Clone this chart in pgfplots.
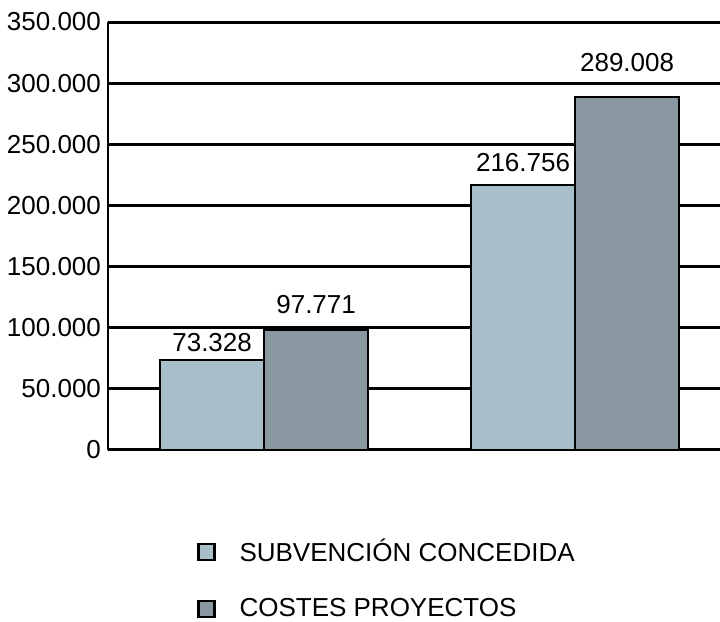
\documentclass[border=0pt]{standalone}
\usepackage{pgfplots}
\pgfplotsset{compat=1.18}
\usepackage{fontspec}
\setmainfont{Liberation Sans}
\definecolor{cLight}{RGB}{168,190,200}
\definecolor{cDark}{RGB}{138,152,162}
\pgfplotstableread{
x y shift
0 73328 4
1 216756 6
}\subv
\pgfplotstableread{
x y shift
0 97771 8
1 289008 12
}\costes
\begin{document}
\begin{tikzpicture}[font=\fontsize{13}{15}\selectfont]
\path[use as bounding box] (0,0) rectangle (360pt,311pt);
\begin{axis}[
  at={(54pt,86pt)}, anchor=south west,
  scale only axis, width=306pt, height=214pt,
  ybar=0pt, bar width=52pt,
  xmin=-0.502, xmax=1.466,
  ymin=0, ymax=350000,
  ytick={0,50000,...,350000},
  xtick=\empty,
  scaled y ticks=false,
  /pgf/number format/assume math mode=true,
  yticklabel style={/pgf/number format/fixed, /pgf/number format/1000 sep={.}},
  ymajorgrids,
  grid style={black, line width=1.5pt},
  axis x line=none,
  axis y line*=left,
  y axis line style={-, black, line width=1pt},
  major tick length=0pt,
  visualization depends on={\thisrow{shift} \as \myshift},
  nodes near coords,
  every node near coord/.append style={/pgf/number format/fixed, /pgf/number format/1000 sep={.}, /pgf/number format/precision=0, font=\fontsize{13}{15}\selectfont, inner sep=0pt, anchor=south, yshift=\myshift pt},
  legend style={at={(0.145,-0.198)}, anchor=north west, draw=none, fill=none,
    row sep=13pt, inner sep=0pt, font=\fontsize{13}{15}\selectfont,
    /tikz/every odd column/.append style={column sep=10pt}},
  legend cell align=left,
  legend image code/.code={\draw[#1, line width=1.2pt] (0pt,-4pt) rectangle (8pt,4pt);},
]
\addplot[fill=cLight, draw=black, line width=1pt] table[x=x, y=y] {\subv};
\addplot[fill=cDark, draw=black, line width=1pt] table[x=x, y=y] {\costes};
\legend{SUBVENCIÓN CONCEDIDA, COSTES PROYECTOS}
\end{axis}
\end{tikzpicture}
\end{document}
